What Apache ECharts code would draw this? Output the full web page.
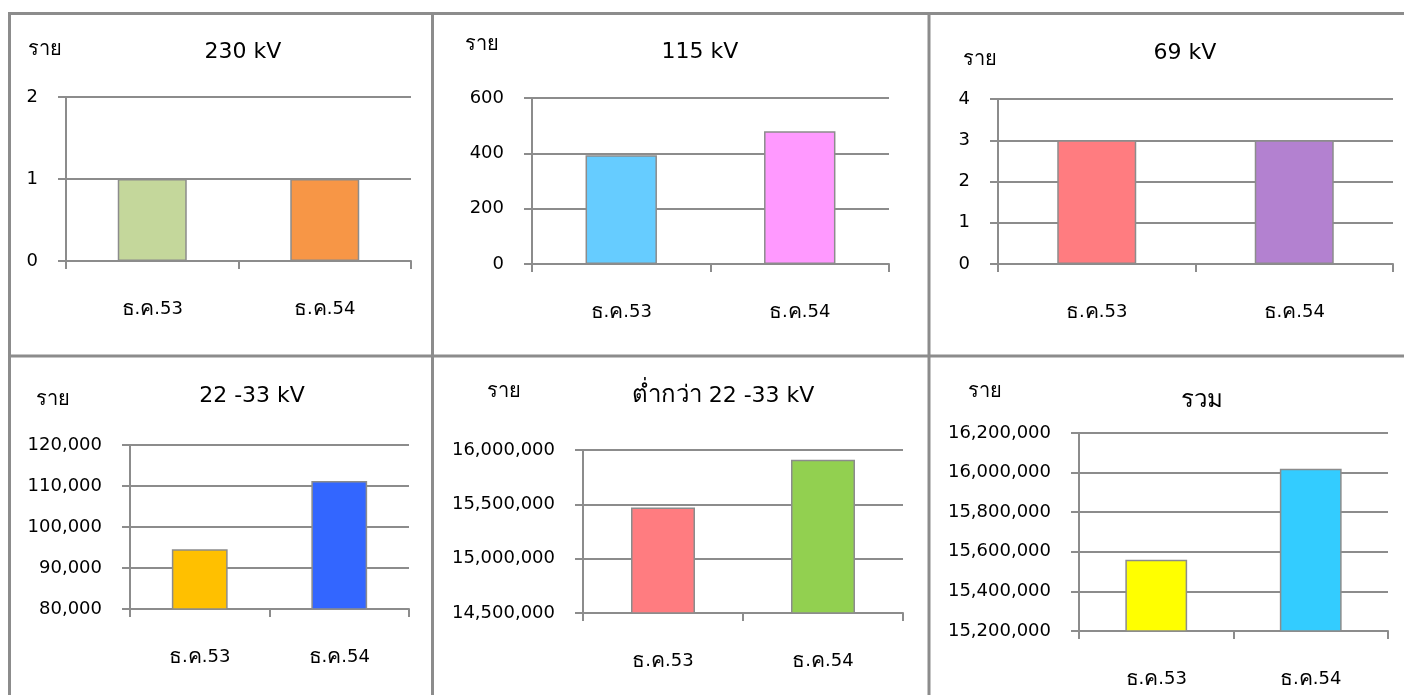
<!DOCTYPE html>
<html><head><meta charset="utf-8">
<script src="https://cdn.jsdelivr.net/npm/echarts@6/dist/echarts.min.js"></script>
<style>html,body{margin:0;padding:0;background:#fff;}#c{width:1404px;height:695px;}</style>
</head><body><div id="c"></div>
<script>
const categories = ['ธ.ค.53', 'ธ.ค.54'];
const titles = ['230 kV', '115 kV', '69 kV', '22 -33 kV', 'ต่ำกว่า 22 -33 kV', 'รวม'];
const unitLabel = 'ราย';
const v230 = [1, 1];
const v115 = [393, 480];
const v69 = [3, 3];
const v2233 = [94600, 111200];
const vLow = [15470000, 15910000];
const vTotal = [15560000, 16020000];
const yMins = [0, 0, 0, 80000, 14500000, 15200000];
const yMaxs = [2, 600, 4, 120000, 16000000, 16200000];
const yIntervals = [1, 200, 1, 10000, 500000, 200000];

const seriesValues = [v230, v115, v69, v2233, vLow, vTotal];
const barColors = [
  ['#C4D79B', '#F79646'],
  ['#66CCFF', '#FF99FF'],
  ['#FF7C80', '#B381D0'],
  ['#FFC000', '#3366FF'],
  ['#FF7C80', '#92D050'],
  ['#FFFF00', '#33CCFF']
];
const grids = [
  {left: 66, top: 97, width: 345, height: 164},
  {left: 532, top: 98, width: 357, height: 166},
  {left: 998, top: 99, width: 395, height: 165},
  {left: 130, top: 445, width: 279, height: 164},
  {left: 583, top: 450, width: 320, height: 163},
  {left: 1079, top: 433, width: 309, height: 198}
];
const titlePos = [[243, 52], [700, 52], [1185, 53], [252, 396], [723, 396], [1202, 401]];
const unitPos = [[45, 50], [482, 45], [980, 60], [53, 400], [504, 392], [985, 392]];

const FONT = '"DejaVu Sans", sans-serif';
const gray = '#8C8C8C';
const thaiRich = s => s.replace(/([\u0E00-\u0E7F]+)/g, '{t|$1}');

const option = {
  animation: false,
  grid: grids.map(g => Object.assign({containLabel: false}, g)),
  xAxis: grids.map((g, i) => ({
    type: 'category', gridIndex: i, data: categories,
    axisLine: {lineStyle: {color: gray, width: 2}},
    axisTick: {show: true, length: 8, alignWithLabel: false, lineStyle: {color: gray, width: 2}},
    axisLabel: {margin: 38, interval: 0, hideOverlap: false, color: '#000', fontSize: 18, fontFamily: FONT,
      formatter: v => thaiRich(v),
      rich: {t: {fontSize: 21, fontFamily: FONT, color: '#000'}}}
  })),
  yAxis: grids.map((g, i) => ({
    type: 'value', gridIndex: i, min: yMins[i], max: yMaxs[i], interval: yIntervals[i],
    axisLine: {show: true, lineStyle: {color: gray, width: 2}},
    axisTick: {show: true, length: 8, lineStyle: {color: gray, width: 2}},
    splitLine: {show: true, lineStyle: {color: gray, width: 2}},
    axisLabel: {margin: 28, color: '#000', fontSize: 18, fontFamily: FONT,
      formatter: v => v.toLocaleString('en-US')}
  })),
  series: seriesValues.map((vals, i) => ({
    type: 'bar', xAxisIndex: i, yAxisIndex: i, barWidth: '40%',
    data: vals.map((v, j) => ({value: v, itemStyle: {color: barColors[i][j], borderColor: gray, borderWidth: 1.5}}))
  })),
  graphic: [
    {type: 'line', shape: {x1: 9.5, y1: 13.5, x2: 1404, y2: 13.5}, style: {stroke: gray, lineWidth: 3}},
    {type: 'line', shape: {x1: 9.5, y1: 12, x2: 9.5, y2: 695}, style: {stroke: gray, lineWidth: 3}},
    {type: 'line', shape: {x1: 432.5, y1: 12, x2: 432.5, y2: 695}, style: {stroke: gray, lineWidth: 3}},
    {type: 'line', shape: {x1: 929, y1: 12, x2: 929, y2: 695}, style: {stroke: gray, lineWidth: 3}},
    {type: 'line', shape: {x1: 9, y1: 356, x2: 1404, y2: 356}, style: {stroke: gray, lineWidth: 3}}
  ].concat(titles.map((t, i) => ({
    type: 'text', x: titlePos[i][0], y: titlePos[i][1],
    style: {text: thaiRich(t), fill: '#000', fontSize: 22, fontFamily: FONT, align: 'center', verticalAlign: 'middle',
      rich: {t: {fontSize: 24, fontFamily: FONT, fill: '#000'}}}
  }))).concat(unitPos.map((p, i) => ({
    type: 'text', x: p[0], y: p[1],
    style: {text: unitLabel, fill: '#000', fontSize: 20, fontFamily: FONT, align: 'center', verticalAlign: 'middle'}
  })))
};
const chart = echarts.init(document.getElementById('c'));
chart.setOption(option);
</script></body></html>
